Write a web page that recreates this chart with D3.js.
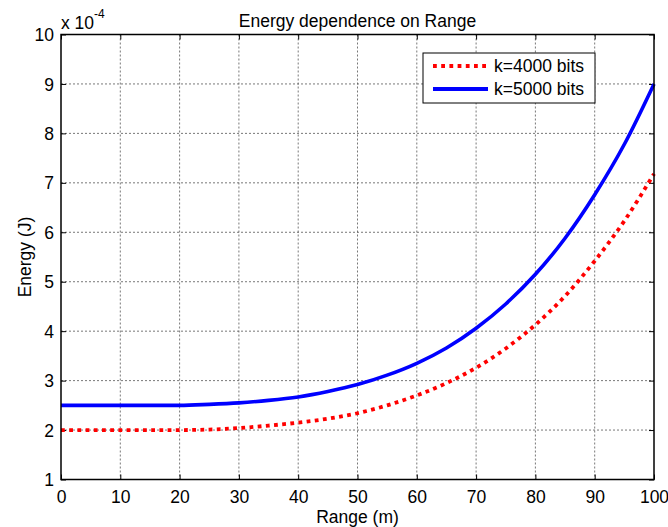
<!DOCTYPE html>
<html>
<head>
<meta charset="utf-8">
<script src="https://cdn.jsdelivr.net/npm/d3@7"></script>
<style>
  html, body { margin: 0; padding: 0; background: #fff; }
  svg text { font-family: "Liberation Sans", Arial, sans-serif; fill: #000; }
</style>
</head>
<body>
<svg id="chart" width="668" height="527"></svg>
<script>
// Range samples (m)
const range = [0, 5, 10, 15, 20, 25, 30, 35, 40, 45, 50, 55, 60, 65, 70, 75, 80, 85, 90, 95, 100];
// Energy in units of 1e-4 J
const energyK4000 = [2.00, 2.00, 2.00, 2.00, 2.00, 2.01, 2.04, 2.09, 2.15, 2.23, 2.34, 2.50, 2.70, 2.95, 3.26, 3.65, 4.13, 4.71, 5.42, 6.23, 7.18];
const energyK5000 = [2.50, 2.50, 2.50, 2.50, 2.50, 2.52, 2.55, 2.60, 2.67, 2.78, 2.92, 3.11, 3.35, 3.66, 4.06, 4.55, 5.15, 5.88, 6.76, 7.78, 9.00];
const seriesNames = ["k=4000 bits", "k=5000 bits"];
const xTicks = [0, 10, 20, 30, 40, 50, 60, 70, 80, 90, 100];
const yTicks = [1, 2, 3, 4, 5, 6, 7, 8, 9, 10];

const FONT = "17.5px";
const svg = d3.select("#chart");
const m = { left: 61, right: 654, top: 34.5, bottom: 479.5 };

const x = d3.scaleLinear().domain([0, 100]).range([m.left, m.right]);
const y = d3.scaleLinear().domain([1, 10]).range([m.bottom, m.top]);

svg.append("rect").attr("width", 668).attr("height", 527).attr("fill", "#fff");

// grid
const grid = svg.append("g").attr("stroke", "#555").attr("stroke-width", 0.8)
  .attr("stroke-dasharray", "2,2");
grid.selectAll("line.gx").data(xTicks.slice(1, -1)).join("line")
  .attr("x1", d => x(d)).attr("x2", d => x(d))
  .attr("y1", m.top).attr("y2", m.bottom);
grid.selectAll("line.gy").data(yTicks.slice(1, -1)).join("line")
  .attr("y1", d => y(d)).attr("y2", d => y(d))
  .attr("x1", m.left).attr("x2", m.right);

// axes with inward ticks on all four sides
const tickLen = 5;
const axB = svg.append("g").attr("transform", `translate(0,${m.bottom})`)
  .call(d3.axisBottom(x).tickValues(xTicks).tickSizeInner(-tickLen).tickSizeOuter(0).tickPadding(11));
const axT = svg.append("g").attr("transform", `translate(0,${m.top})`)
  .call(d3.axisTop(x).tickValues(xTicks).tickSizeInner(-tickLen).tickSizeOuter(0).tickFormat(""));
const axL = svg.append("g").attr("transform", `translate(${m.left},0)`)
  .call(d3.axisLeft(y).tickValues(yTicks).tickSizeInner(-tickLen).tickSizeOuter(0).tickPadding(7));
const axR = svg.append("g").attr("transform", `translate(${m.right},0)`)
  .call(d3.axisRight(y).tickValues(yTicks).tickSizeInner(-tickLen).tickSizeOuter(0).tickFormat(""));
[axB, axT, axL, axR].forEach(a => {
  a.select(".domain").remove();
  a.selectAll(".tick line").attr("stroke", "#000").attr("stroke-width", 1);
  a.selectAll("text").style("font-size", FONT).attr("fill", "#000");
});
axB.selectAll(".tick text").attr("dy", "0.71em");
axL.selectAll(".tick text").attr("dy", "0.35em");

// data lines
const lineOf = vals => d3.line().x((d, i) => x(range[i])).y(d => y(d)).curve(d3.curveMonotoneX)(vals);
svg.append("path").attr("d", lineOf(energyK4000)).attr("fill", "none")
  .attr("stroke", "#ff0000").attr("stroke-width", 3.8).attr("stroke-dasharray", "3.8,4.4");
svg.append("path").attr("d", lineOf(energyK5000)).attr("fill", "none")
  .attr("stroke", "#0000ff").attr("stroke-width", 3.6).attr("stroke-linejoin", "round");

// axes box
svg.append("rect").attr("x", m.left).attr("y", m.top)
  .attr("width", m.right - m.left).attr("height", m.bottom - m.top)
  .attr("fill", "none").attr("stroke", "#000").attr("stroke-width", 1.5);

// exponent label
const ex = svg.append("text").attr("x", m.left).attr("y", 28.5).style("font-size", FONT);
ex.append("tspan").text("x 10");
ex.append("tspan").attr("dy", -11).style("font-size", "12px").text("-4");

// title & axis labels
svg.append("text").attr("x", (m.left + m.right) / 2).attr("y", 26.5)
  .attr("text-anchor", "middle").style("font-size", FONT).text("Energy dependence on Range");
svg.append("text").attr("x", (m.left + m.right) / 2).attr("y", 523)
  .attr("text-anchor", "middle").style("font-size", FONT).text("Range (m)");
svg.append("text").attr("transform", `translate(31,${(m.top + m.bottom) / 2}) rotate(-90)`)
  .attr("text-anchor", "middle").style("font-size", FONT).text("Energy (J)");

// legend
const lg = svg.append("g");
lg.append("rect").attr("x", 423).attr("y", 53).attr("width", 172).attr("height", 50)
  .attr("fill", "#fff").attr("stroke", "#000").attr("stroke-width", 1);
const legendItems = [
  { name: seriesNames[0], color: "#ff0000", dash: "3.8,4.4", yy: 66 },
  { name: seriesNames[1], color: "#0000ff", dash: null, yy: 89 }
];
legendItems.forEach(it => {
  lg.append("line").attr("x1", 433).attr("x2", 488).attr("y1", it.yy).attr("y2", it.yy)
    .attr("stroke", it.color).attr("stroke-width", 3.8)
    .attr("stroke-dasharray", it.dash);
  lg.append("text").attr("x", 494).attr("y", it.yy).attr("dy", "0.35em")
    .style("font-size", FONT).text(it.name);
});
</script>
</body>
</html>
